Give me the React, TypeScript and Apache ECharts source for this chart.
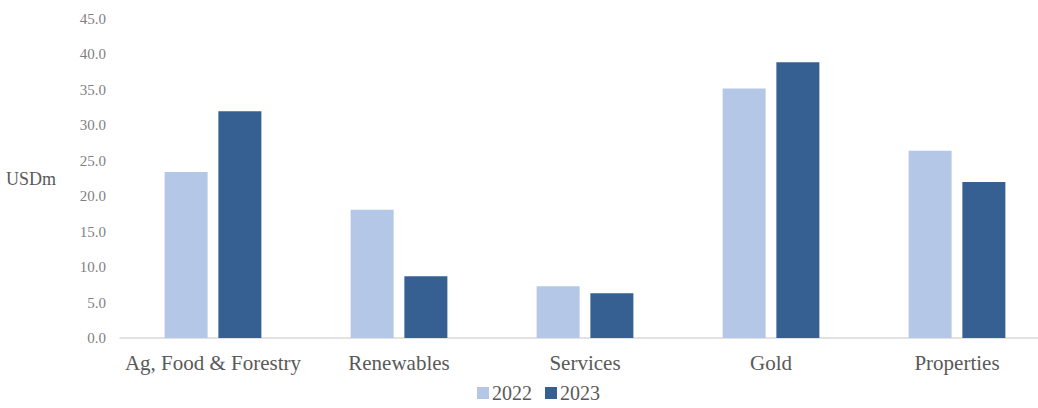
import React, { useEffect, useRef } from "react";
import * as echarts from "echarts";

const categories = ["Ag, Food & Forestry", "Renewables", "Services", "Gold", "Properties"];
const values2022 = [23.4, 18.1, 7.3, 35.2, 26.4];
const values2023 = [32.0, 8.7, 6.3, 38.9, 22.0];
const seriesNames = ["2022", "2023"];

const FONT = "Liberation Serif";

export default function App() {
  const ref = useRef<HTMLDivElement>(null);
  useEffect(() => {
    if (!ref.current) return;
    const chart = echarts.init(ref.current, null, { renderer: "svg" });
    chart.setOption({
      animation: false,
      textStyle: { fontFamily: FONT },
      grid: {
        left: 120,
        top: 19,
        width: 930,
        height: 319,
        containLabel: false,
        outerBoundsMode: "none",
      },
      legend: {
        data: seriesNames,
        top: 381,
        left: 472,
        padding: [2, 5, 2, 5],
        itemWidth: 12,
        itemHeight: 12,
        itemGap: 13,
        icon: "rect",
        textStyle: { fontFamily: FONT, fontSize: 20, lineHeight: 20, color: "#595959", padding: [0, 0, 0, -2] },
      },
      xAxis: {
        type: "category",
        data: categories,
        axisLine: { show: true, lineStyle: { color: "#d9d9d9", width: 1.5 } },
        axisTick: { show: false },
        axisLabel: { interval: 0, fontFamily: FONT, fontSize: 21, color: "#595959", margin: 14 },
      },
      yAxis: {
        type: "value",
        min: 0,
        max: 45,
        interval: 5,
        name: "USDm",
        nameLocation: "middle",
        nameRotate: 0,
        nameGap: 64,
        nameTextStyle: { fontFamily: FONT, fontSize: 18, color: "#595959" },
        splitLine: { show: false },
        axisLine: { show: false },
        axisTick: { show: false },
        axisLabel: {
          fontFamily: FONT,
          fontSize: 15,
          color: "#7f7f7f",
          margin: 14,
          formatter: (v: number) => v.toFixed(1),
        },
      },
      series: [
        {
          name: seriesNames[0],
          type: "bar",
          data: values2022,
          barWidth: 43,
          barGap: "25%",
          itemStyle: { color: "#b4c7e7" },
        },
        {
          name: seriesNames[1],
          type: "bar",
          data: values2023,
          barWidth: 43,
          itemStyle: { color: "#366092" },
        },
      ],
    });
    return () => chart.dispose();
  }, []);
  return (
    <div
      ref={ref}
      style={{ position: "absolute", left: 0, top: 0, width: 1038, height: 408 }}
    />
  );
}
